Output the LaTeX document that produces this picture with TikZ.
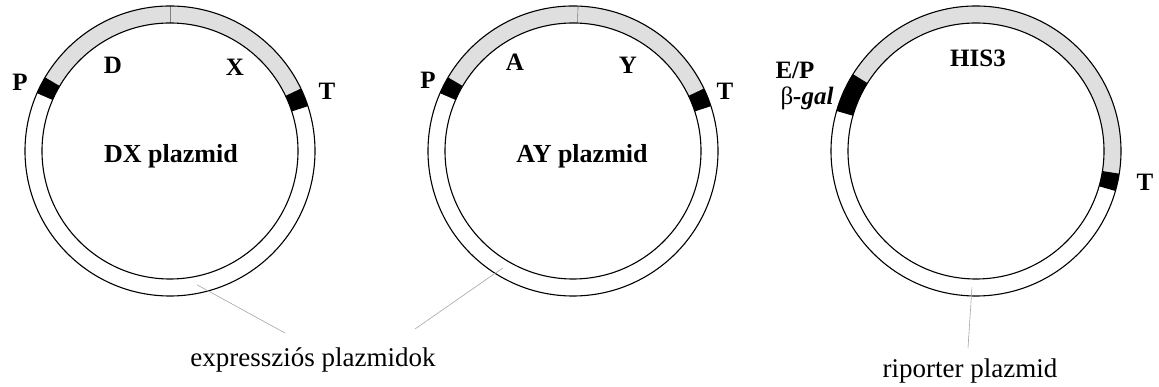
\documentclass[tikz,border=0pt]{standalone}
\usepackage{fontspec}
\setmainfont{Liberation Serif}
\usetikzlibrary{calc}

\newcommand{\plout}{145pt}
\newcommand{\plin}{128pt}
% one piece of the plasmid ring: centre, start angle, end angle, style
\newcommand{\ringpart}[4]{%
  \fill[#4] ($(#1)+(#2:\plout)$) arc[start angle=#2, end angle=#3, radius=\plout]
    -- ($(#1)+(#3:\plin)$) arc[start angle=#3, end angle=#2, radius=\plin] -- cycle;}

\begin{document}
\begin{tikzpicture}[
  x=1pt, y=1pt,
  genelabel/.style={font=\bfseries\fontsize{25}{28}\selectfont, inner sep=1pt},
  namelabel/.style={font=\bfseries\fontsize{26}{30}\selectfont},
  caption/.style={font=\fontsize{27}{31}\selectfont, anchor=base},
  ring/.style={line width=1.1pt},
  leader/.style={gray!70, line width=0.6pt},
  divider/.style={gray, line width=0.6pt},
  insert/.style={fill=gray!25},
  marker/.style={fill=black}
  ]
  \useasboundingbox (0,0) rectangle (1159,387);
  \coordinate (dx) at (170,236);
  \coordinate (ay) at (573,236);
  \coordinate (rep) at (976,236);

  % DX plazmid
  \ringpart{dx}{25}{150}{insert}
  \ringpart{dx}{149.5}{156.5}{marker}
  \ringpart{dx}{18}{25.5}{marker}
  \draw[divider] ($(dx)+(90:\plin)$) -- ($(dx)+(90:\plout)$);
  \draw[ring] (dx) circle[radius=\plout] (dx) circle[radius=\plin];
  \node[genelabel] (dxP) at (20,305) {P};
  \node[genelabel] (dxD) at (113,322) {D};
  \node[genelabel] (dxX) at (235,320) {X};
  \node[genelabel] (dxT) at (327,296) {T};
  \node[namelabel] (dxname) at (171,231) {DX plazmid};

  % AY plazmid
  \ringpart{ay}{25}{150}{insert}
  \ringpart{ay}{149.5}{156.5}{marker}
  \ringpart{ay}{18}{25.5}{marker}
  \draw[divider] ($(ay)+(88:\plin)$) -- ($(ay)+(88:\plout)$);
  \draw[ring] (ay) circle[radius=\plout] (ay) circle[radius=\plin];
  \node[genelabel] (ayP) at (428,307) {P};
  \node[genelabel] (ayA) at (515,325) {A};
  \node[genelabel] (ayY) at (628,322) {Y};
  \node[genelabel] (ayT) at (725,296) {T};
  \node[namelabel] (ayname) at (582,231) {AY plazmid};

  % riporter plazmid
  \ringpart{rep}{-9}{148.5}{insert}
  \ringpart{rep}{148}{164}{marker}
  \ringpart{rep}{-16}{-9}{marker}
  \draw[ring] (rep) circle[radius=\plout] (rep) circle[radius=\plin];
  \node[genelabel] (repEP) at (795,317) {E/P};
  \node[genelabel] (repgal) at (807,289) {{\mdseries β}\textit{-gal}};
  \node[genelabel] (repHIS) at (978,329) {HIS3};
  \node[genelabel] (repT) at (1145,205) {T};

  % captions
  \node[caption] (explab) at (313,20) {expressziós plazmidok};
  \node[caption] (replab) at (970,9) {riporter plazmid};
  \coordinate (dxlead) at ($(dx)+(-78.6:136.5pt)$);
  \coordinate (aylead) at ($(ay)+(-121:136.5pt)$);
  \coordinate (replead) at ($(rep)+(-91.7:136.5pt)$);
  \coordinate (expA) at (285,54);
  \coordinate (expB) at (415,58);
  \coordinate (repA) at (968,39);
  \draw[leader] (dxlead) -- (expA);
  \draw[leader] (aylead) -- (expB);
  \draw[leader] (replead) -- (repA);
\end{tikzpicture}
\end{document}
